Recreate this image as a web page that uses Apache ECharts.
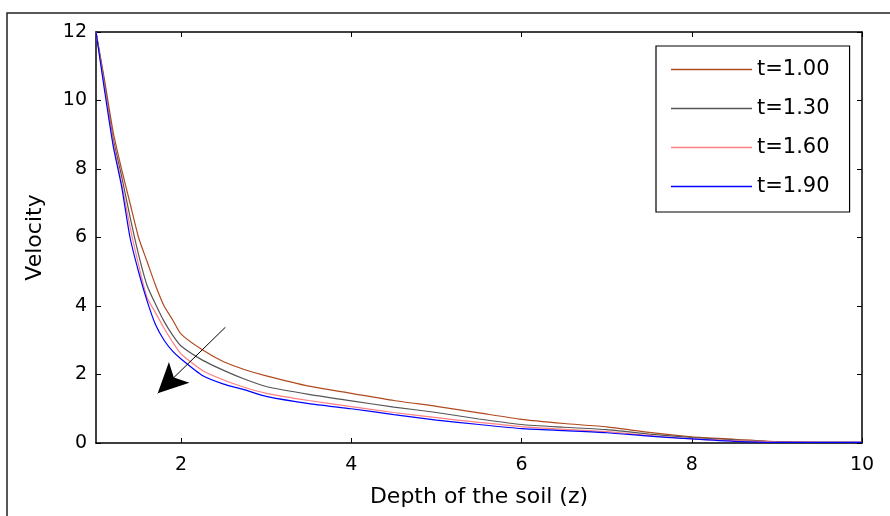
<!DOCTYPE html>
<html>
<head>
<meta charset="utf-8">
<script src="https://cdn.jsdelivr.net/npm/echarts@6/dist/echarts.min.js"></script>
<style>
  html, body { margin: 0; padding: 0; background: #fff; }
  #chart { width: 890px; height: 516px; }
</style>
</head>
<body>
<div id="chart"></div>
<script>
// depth z (x axis)
const depth = [1, 1.1, 1.2, 1.3, 1.4, 1.5, 1.6, 1.7, 1.8, 1.9, 2, 2.25, 2.5, 2.75, 3, 3.5, 4, 4.5, 5, 5.5, 6, 6.5, 7, 7.5, 8, 8.5, 9, 9.5, 10];
// velocity for each t
const vel100 = [12, 10.6, 9.1, 8.0, 7.0, 6.0, 5.3, 4.6, 4.0, 3.6, 3.18, 2.72, 2.37, 2.14, 1.96, 1.66, 1.45, 1.24, 1.07, 0.88, 0.69, 0.57, 0.47, 0.31, 0.18, 0.11, 0.04, 0.02, 0.02];
const vel130 = [12, 10.5, 8.9, 7.8, 6.6, 5.5, 4.6, 4.05, 3.55, 3.15, 2.83, 2.42, 2.12, 1.86, 1.65, 1.42, 1.23, 1.05, 0.89, 0.70, 0.54, 0.46, 0.39, 0.26, 0.16, 0.09, 0.03, 0.02, 0.02];
const vel160 = [12, 10.4, 8.8, 7.6, 6.3, 5.2, 4.25, 3.8, 3.35, 2.95, 2.6, 2.12, 1.84, 1.62, 1.45, 1.24, 1.06, 0.89, 0.74, 0.60, 0.48, 0.40, 0.33, 0.22, 0.12, 0.07, 0.03, 0.02, 0.02];
const vel190 = [12, 10.3, 8.7, 7.5, 6.0, 5.0, 4.15, 3.45, 3.0, 2.68, 2.45, 1.97, 1.72, 1.55, 1.36, 1.15, 1.0, 0.83, 0.67, 0.54, 0.42, 0.36, 0.30, 0.20, 0.12, 0.05, 0.02, 0.02, 0.02];
const seriesNames = ['t=1.00', 't=1.30', 't=1.60', 't=1.90'];
const seriesColors = ['#b04a1e', '#555555', '#ff8080', '#0000ff'];
const xTicks = [2, 4, 6, 8, 10];
// arrow annotation: start and tip in data coords
const arrowFrom = [2.52, 3.38];
const arrowTo = [1.725, 1.45];

const font = 'DejaVu Sans';
const chart = echarts.init(document.getElementById('chart'));

function pairs(ys) {
  return depth.map((x, i) => [x, ys[i]]);
}

const allVel = [vel100, vel130, vel160, vel190];
const series = allVel.map((ys, i) => ({
  name: seriesNames[i],
  type: 'line',
  data: pairs(ys),
  symbol: 'none',
  smooth: 0.2,
  lineStyle: { color: seriesColors[i], width: 1.2 },
  itemStyle: { color: seriesColors[i] },
  z: 3
}));

series[3].markLine = {
  silent: true,
  symbol: ['none', 'arrow'],
  symbolSize: [22, 30],
  label: { show: false },
  lineStyle: { color: '#000', width: 1, type: 'solid' },
  data: [[{ coord: arrowFrom }, { coord: arrowTo }]]
};

const tickStyle = { show: true, inside: true, length: 5, lineStyle: { color: '#000', width: 1 } };

chart.setOption({
  animation: false,
  backgroundColor: '#fff',
  textStyle: { fontFamily: font },
  grid: { left: 96, right: 28, top: 32, bottom: 73, containLabel: false },
  graphic: [{
    type: 'rect',
    shape: { x: 7, y: 13, width: 900, height: 530 },
    style: { fill: 'none', stroke: '#222', lineWidth: 1.5 },
    silent: true
  }],
  legend: {
    left: 656,
    top: 46,
    orient: 'vertical',
    data: seriesNames,
    icon: 'rect',
    itemWidth: 81,
    itemHeight: 1.5,
    itemGap: 18,
    padding: [13, 20, 15, 15],
    borderColor: '#000',
    borderWidth: 1.2,
    backgroundColor: '#fff',
    textStyle: { fontFamily: font, fontSize: 21, color: '#000', lineHeight: 21 }
  },
  xAxis: [{
    type: 'value',
    min: 1,
    max: 10,
    name: 'Depth of the soil (z)',
    nameLocation: 'middle',
    nameGap: 43,
    nameTextStyle: { fontFamily: font, fontSize: 22, color: '#000' },
    axisLine: { show: true, onZero: false, lineStyle: { color: '#000', width: 1.5 } },
    axisTick: Object.assign({ customValues: xTicks }, tickStyle),
    axisLabel: { customValues: xTicks, fontFamily: font, fontSize: 19, color: '#000', margin: 13 },
    splitLine: { show: false }
  }, {
    type: 'value',
    position: 'top',
    min: 1,
    max: 10,
    axisLine: { show: true, onZero: false, lineStyle: { color: '#000', width: 1.5 } },
    axisTick: Object.assign({ customValues: xTicks }, tickStyle),
    axisLabel: { show: false },
    splitLine: { show: false }
  }],
  yAxis: [{
    type: 'value',
    min: 0,
    max: 12,
    interval: 2,
    name: 'Velocity',
    nameLocation: 'middle',
    nameGap: 50,
    nameTextStyle: { fontFamily: font, fontSize: 22, color: '#000' },
    axisLine: { show: true, onZero: false, lineStyle: { color: '#000', width: 1.5 } },
    axisTick: tickStyle,
    axisLabel: { fontFamily: font, fontSize: 19, color: '#000', margin: 9 },
    splitLine: { show: false }
  }, {
    type: 'value',
    position: 'right',
    min: 0,
    max: 12,
    interval: 2,
    axisLine: { show: true, onZero: false, lineStyle: { color: '#000', width: 1.5 } },
    axisTick: tickStyle,
    axisLabel: { show: false },
    splitLine: { show: false }
  }],
  series: series
});
</script>
</body>
</html>
